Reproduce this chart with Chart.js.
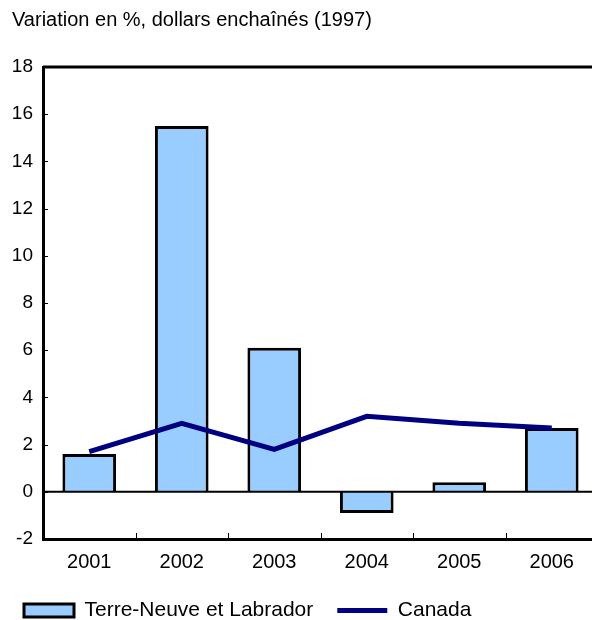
<!DOCTYPE html>
<html>
<head>
<meta charset="utf-8">
<script src="https://cdn.jsdelivr.net/npm/chart.js@4"></script>
<style>
  html, body { margin: 0; padding: 0; background: #fff; overflow: hidden; }
  #wrap { position: relative; width: 592px; height: 620px; overflow: hidden; }
  #title { position: absolute; left: 12px; top: 8px; font: 20px "Liberation Sans", Arial, sans-serif; color: #000; }
</style>
</head>
<body>
<div id="wrap">
  <div id="title">Variation en %, dollars enchaînés (1997)</div>
  <canvas id="chart" width="598" height="631"></canvas>
</div>
<script>
const years = ['2001', '2002', '2003', '2004', '2005', '2006'];
const terreNeuve = [1.6, 15.5, 6.1, -0.9, 0.4, 2.7];
const canada = [1.7, 2.9, 1.8, 3.2, 2.9, 2.7];
const yTicks = [-2, 0, 2, 4, 6, 8, 10, 12, 14, 16, 18];

const fontFamily = '"Liberation Sans", Arial, sans-serif';

// frame on top, zero line and small inside ticks like the original
const framePlugin = {
  id: 'frame',
  afterDatasetsDraw(chart) {
    const { ctx, chartArea: a, scales } = chart;
    ctx.save();
    ctx.strokeStyle = '#000';
    ctx.lineWidth = 2;
    const y0 = scales.y.getPixelForValue(0);
    ctx.beginPath();
    ctx.moveTo(a.left, y0);
    ctx.lineTo(a.right, y0);
    ctx.stroke();
    ctx.restore();
  },
  afterDraw(chart) {
    const { ctx, chartArea: a, scales } = chart;
    ctx.save();
    ctx.strokeStyle = '#000';
    ctx.lineWidth = 3;
    ctx.beginPath();
    ctx.moveTo(a.left, a.top);
    ctx.lineTo(a.right, a.top);
    ctx.stroke();
    ctx.lineWidth = 1;
    ctx.beginPath();
    yTicks.forEach(v => {
      const y = Math.round(scales.y.getPixelForValue(v)) + 0.5;
      ctx.moveTo(a.left, y);
      ctx.lineTo(a.left + 5, y);
    });
    for (let i = 1; i < years.length; i++) {
      const x = Math.round((scales.x.getPixelForValue(i - 1) + scales.x.getPixelForValue(i)) / 2) + 0.5;
      ctx.moveTo(x, a.bottom);
      ctx.lineTo(x, a.bottom - 6);
    }
    ctx.stroke();
    ctx.restore();
  }
};

new Chart(document.getElementById('chart'), {
  data: {
    labels: years,
    datasets: [
      {
        type: 'line',
        label: 'Canada',
        data: canada,
        borderColor: '#000080',
        backgroundColor: '#000080',
        borderWidth: 5,
        pointRadius: 0,
        pointStyle: 'line',
        tension: 0,
        order: 0
      },
      {
        type: 'bar',
        label: 'Terre-Neuve et Labrador',
        data: terreNeuve,
        backgroundColor: '#99ccff',
        borderColor: '#000',
        borderWidth: 3,
        borderSkipped: 'start',
        pointStyle: 'rect',
        categoryPercentage: 1,
        barPercentage: 0.58,
        order: 1
      }
    ]
  },
  options: {
    responsive: false,
    animation: false,
    layout: { padding: { top: 67, left: 0, right: 0, bottom: 0 } },
    plugins: {
      tooltip: { enabled: false },
      legend: {
        position: 'bottom',
        align: 'start',
        reverse: true,
        labels: {
          font: { family: fontFamily, size: 21 },
          color: '#000',
          usePointStyle: true,
          pointStyleWidth: 50,
          boxHeight: 13,
          padding: 24
        }
      }
    },
    scales: {
      x: {
        afterFit(scale) { scale.height = 37; },
        grid: { display: false, drawTicks: false },
        border: { color: '#000', width: 3 },
        ticks: { font: { family: fontFamily, size: 20 }, color: '#000', padding: 11 }
      },
      y: {
        min: -2,
        max: 18,
        afterFit(scale) { scale.width = 43; },
        afterBuildTicks(scale) { scale.ticks = yTicks.map(v => ({ value: v })); },
        grid: { display: false, drawTicks: false },
        border: { color: '#000', width: 3 },
        ticks: { font: { family: fontFamily, size: 19 }, color: '#000', padding: 10 }
      }
    }
  },
  plugins: [framePlugin]
});
</script>
</body>
</html>
